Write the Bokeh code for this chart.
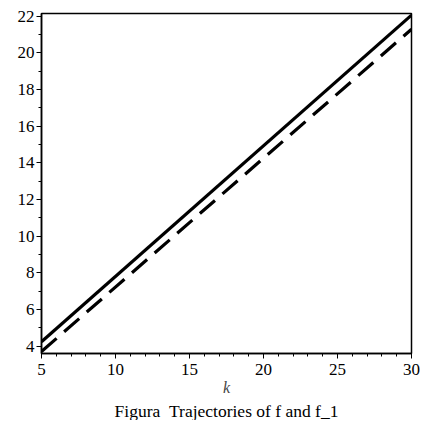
from bokeh.plotting import figure
from bokeh.models import Range1d, Title, FixedTicker
from bokeh.embed import file_html
from bokeh.resources import INLINE

k = [5, 30]
f = [4.25, 22.05]
f_1 = [3.72, 21.28]
x_ticks = [5, 10, 15, 20, 25, 30]
y_ticks = [4, 6, 8, 10, 12, 14, 16, 18, 20, 22]

SERIF = "'Liberation Serif', 'Times New Roman', serif"

p = figure(width=420, height=420, output_backend="svg", toolbar_location=None,
           x_range=Range1d(5, 30), y_range=Range1d(3.61, 22.14),
           min_border_left=41, min_border_right=9, min_border_top=13, min_border_bottom=10)
p.grid.visible = False
p.outline_line_color = "black"
p.outline_line_width = 1.5

p.line(k, f, line_color="black", line_width=3.2)
p.line(k, f_1, line_color="black", line_width=3.2, line_dash="20 10")

p.axis.major_label_text_font = SERIF
p.axis.major_label_text_font_size = "17px"
p.axis.major_label_text_color = "black"
p.axis.axis_line_color = "black"
p.axis.axis_line_width = 1.5
p.axis.major_tick_in = 0
p.axis.major_tick_out = 5
p.axis.minor_tick_in = 0
p.axis.minor_tick_out = 3
p.axis.major_tick_line_color = "black"
p.axis.minor_tick_line_color = "black"
p.xaxis.major_label_standoff = 5
p.yaxis.major_label_standoff = 2

p.xaxis.ticker = FixedTicker(ticks=x_ticks, minor_ticks=list(range(5, 31)))
p.yaxis.ticker = FixedTicker(ticks=y_ticks, minor_ticks=list(range(4, 23)))
p.xaxis.axis_label = "k"
p.xaxis.axis_label_text_font = SERIF
p.xaxis.axis_label_text_font_style = "italic"
p.xaxis.axis_label_text_font_size = "16px"
p.xaxis.axis_label_standoff = 1

cap = Title(text="Figura\u00a0\u00a0Trajectories of f and f_1", align="center",
            text_font=SERIF, text_font_size="17.5px",
            text_font_style="normal", text_color="black", standoff=0)
p.add_layout(cap, "below")

open("out.html", "w").write(file_html(p, INLINE))
